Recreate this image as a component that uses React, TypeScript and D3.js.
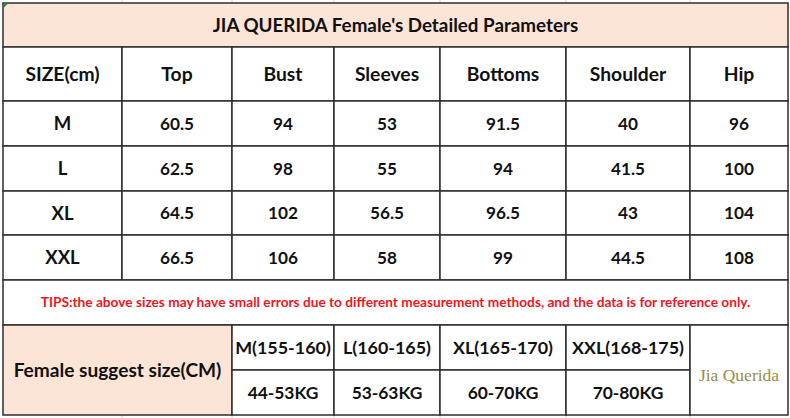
import React from "react";
import * as d3 from "d3";

const title = "JIA QUERIDA Female's Detailed Parameters";
const headers = ["SIZE(cm)", "Top", "Bust", "Sleeves", "Bottoms", "Shoulder", "Hip"];
const sizes = ["M", "L", "XL", "XXL"];
const topVals = [60.5, 62.5, 64.5, 66.5];
const bustVals = [94, 98, 102, 106];
const sleevesVals = [53, 55, 56.5, 58];
const bottomsVals = [91.5, 94, 96.5, 99];
const shoulderVals = [40, 41.5, 43, 44.5];
const hipVals = [96, 100, 104, 108];
const tips =
  "TIPS:the above sizes may have small errors due to different measurement methods, and the data is for reference only.";
const suggestLabel = "Female suggest size(CM)";
const suggestHeights = ["M(155-160)", "L(160-165)", "XL(165-170)", "XXL(168-175)"];
const suggestWeights = ["44-53KG", "53-63KG", "60-70KG", "70-80KG"];
const brand = "Jia Querida";

// layout
const W = 790;
const H = 418;
const colEdges = [3, 122, 232, 334, 440, 566, 690, 788];
const rowEdges = [3, 47, 101, 146, 191, 235, 280, 325, 370, 415];
const PEACH = "#fce4d6";
const BORDER = "#2e2e2e";
const FONT = "Lato, 'Open Sans', sans-serif";

const x = d3.scaleOrdinal<number, number>().domain(d3.range(colEdges.length)).range(colEdges);
const y = d3.scaleOrdinal<number, number>().domain(d3.range(rowEdges.length)).range(rowEdges);

type Cell = { c0: number; c1: number; r0: number; r1: number; text: string; size: number; fill?: string; color?: string; family?: string; weight?: number; dy?: number };

function buildCells(): Cell[] {
  const cells: Cell[] = [];
  cells.push({ c0: 0, c1: 7, r0: 0, r1: 1, text: title, size: 18.8, fill: PEACH });
  headers.forEach((h, i) => cells.push({ c0: i, c1: i + 1, r0: 1, r1: 2, text: h, size: 19.3 }));
  const cols = [sizes, topVals, bustVals, sleevesVals, bottomsVals, shoulderVals, hipVals];
  sizes.forEach((_, r) => {
    cols.forEach((col, c) => {
      cells.push({ c0: c, c1: c + 1, r0: 2 + r, r1: 3 + r, text: String(col[r]), size: c === 0 ? 18.5 : 17.2 });
    });
  });
  cells.push({ c0: 0, c1: 7, r0: 6, r1: 7, text: tips, size: 13.7, color: "#f5141e" });
  cells.push({ c0: 0, c1: 2, r0: 7, r1: 9, text: suggestLabel, size: 19.1, fill: PEACH });
  suggestHeights.forEach((t, i) => cells.push({ c0: 2 + i, c1: 3 + i, r0: 7, r1: 8, text: t, size: 17.9 }));
  suggestWeights.forEach((t, i) => cells.push({ c0: 2 + i, c1: 3 + i, r0: 8, r1: 9, text: t, size: 17.4 }));
  cells.push({ c0: 6, c1: 7, r0: 7, r1: 9, text: brand, size: 17.5, color: "#9a8c45", family: "'Liberation Serif', 'DejaVu Serif', serif", weight: 400, dy: 5 });
  return cells;
}

export default function App() {
  const cells = buildCells();
  return (
    <div style={{ position: "absolute", left: 0, top: 0 }}>
      <svg width={W} height={H} style={{ display: "block", background: "#fff" }}>
        {/* faint sheet gridlines outside the table */}
        {colEdges.slice(1, -1).map((cx, i) => (
          <g key={"g" + i}>
            <line x1={cx} x2={cx} y1={0} y2={3} stroke="#d4d4d4" strokeWidth={1} />
            <line x1={cx} x2={cx} y1={415} y2={H} stroke="#d4d4d4" strokeWidth={1} />
          </g>
        ))}
        {cells.map((c, i) => {
          const x0 = x(c.c0);
          const x1 = x(c.c1);
          const y0 = y(c.r0);
          const y1 = y(c.r1);
          return (
            <g key={i}>
              <rect x={x0} y={y0} width={x1 - x0} height={y1 - y0} fill={c.fill || "#fff"} stroke={BORDER} strokeWidth={1.5} />
              <text
                x={(x0 + x1) / 2}
                y={(y0 + y1) / 2 + (c.dy || 0)}
                dy="0.36em"
                textAnchor="middle"
                fontFamily={c.family || FONT}
                fontWeight={c.weight ?? 700}
                fontSize={c.size}
                fill={c.color || "#111"}
              >
                {c.text}
              </text>
            </g>
          );
        })}
        <path d="M3.5,3.5 L8,3.5 L3.5,8 Z" fill="#1e8a3a" />
      </svg>
    </div>
  );
}
